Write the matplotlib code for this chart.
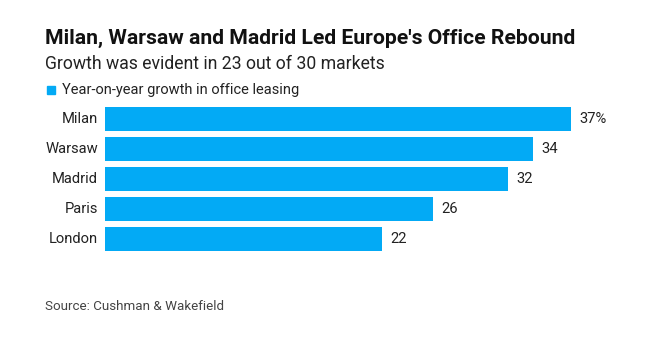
import matplotlib
matplotlib.use("Agg")
import matplotlib.pyplot as plt

cities = ["Milan", "Warsaw", "Madrid", "Paris", "London"]
growth = [37, 34, 32, 26, 22]
value_labels = ["37%", "34", "32", "26", "22"]

title = "Milan, Warsaw and Madrid Led Europe's Office Rebound"
subtitle = "Growth was evident in 23 out of 30 markets"
legend_label = "Year-on-year growth in office leasing"
source = "Source: Cushman & Wakefield"

BAR = "#03AAF5"
plt.rcParams["font.family"] = ["Roboto", "DejaVu Sans"]

W, H = 647, 344
fig = plt.figure(figsize=(W / 100, H / 100), dpi=100)
ax = fig.add_axes([105 / W, (H - 254) / H, 504 / W, 150 / H])

y = list(range(len(cities)))
ax.barh(y, growth, height=0.8, color=BAR)
ax.set_xlim(0, 40)
ax.set_ylim(len(cities) - 0.5, -0.5)
ax.axis("off")

for yi, name, v, lab in zip(y, cities, growth, value_labels):
    ax.annotate(name, (0, yi), xytext=(-5, 0), textcoords="offset points",
                ha="right", va="center", fontsize=10.6, color="#222222")
    ax.annotate(lab, (v, yi), xytext=(6, 0), textcoords="offset points",
                ha="left", va="center", fontsize=10.6, color="#222222")

fig.text(45 / W, 1 - 38 / H, title, fontsize=15.2, fontweight="bold",
         ha="left", va="center", color="#111111")
fig.text(45 / W, 1 - 64 / H, subtitle, fontsize=12.7,
         ha="left", va="center", color="#222222")
fig.patches.append(plt.Rectangle((47 / W, 1 - 94 / H), 8 / W, 8 / H,
                                 transform=fig.transFigure, color=BAR))
fig.text(62 / W, 1 - 90 / H, legend_label, fontsize=10.5,
         ha="left", va="center", color="#222222")
fig.text(45 / W, 1 - 306 / H, source, fontsize=9.6,
         ha="left", va="center", color="#444444")

fig.savefig("out.png", dpi=100, facecolor="white")
